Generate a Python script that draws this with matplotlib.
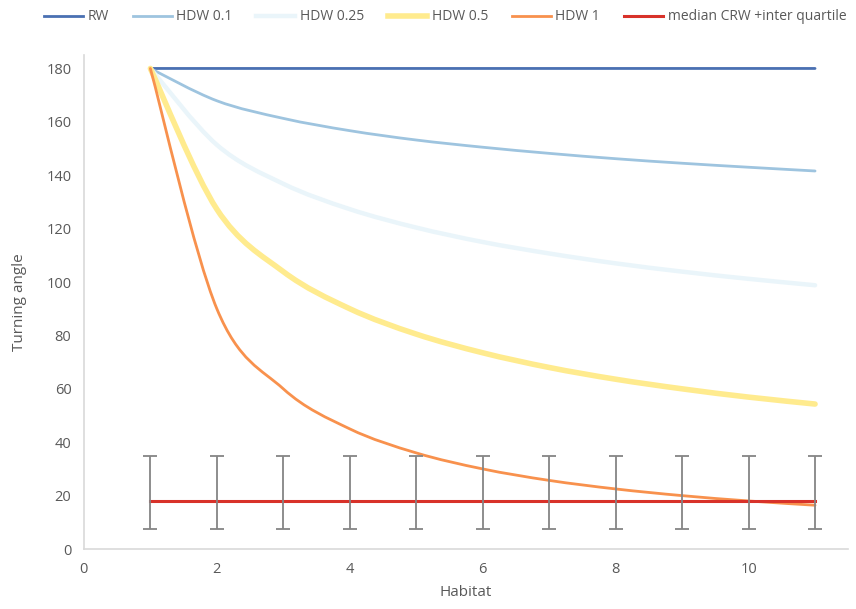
import numpy as np
import matplotlib
matplotlib.use('Agg')
import matplotlib.pyplot as plt
from matplotlib.path import Path
from matplotlib.patches import PathPatch
from matplotlib.lines import Line2D

plt.rcParams['font.family'] = ['Open Sans', 'DejaVu Sans']

# habitat values and turning angles
habitat = [1, 2, 3, 4, 5, 6, 7, 8, 9, 10, 11]
rw = [180, 180, 180, 180, 180, 180, 180, 180, 180, 180, 180]
hdw_01 = [180, 167.9, 161.3, 156.7, 153.2, 150.5, 148.2, 146.2, 144.5, 143.0, 141.6]
hdw_025 = [180, 151.4, 136.8, 127.3, 120.4, 115.0, 110.7, 107.0, 103.9, 101.2, 98.8]
hdw_05 = [180, 127.3, 103.9, 90.0, 80.5, 73.5, 68.0, 63.6, 60.0, 56.9, 54.3]
hdw_1 = [180, 90.0, 60.0, 45.0, 36.0, 30.0, 25.7, 22.5, 20.0, 18.0, 16.4]
crw_median = [18] * 11
crw_q1 = [7.5] * 11
crw_q3 = [35] * 11

series = [
    ('RW', rw, '#4A70B2', 2.0),
    ('HDW 0.1', hdw_01, '#9EC4DF', 2.0),
    ('HDW 0.25', hdw_025, '#EAF5FA', 3.2),
    ('HDW 0.5', hdw_05, '#FFEB8E', 4.0),
    ('HDW 1', hdw_1, '#F8914D', 2.0),
]


def smooth_path(x, y, t=1/6):
    # Excel-like smoothed line: cubic bezier segments through the points
    pts = np.column_stack([x, y]).astype(float)
    n = len(pts)
    verts = [pts[0]]
    codes = [Path.MOVETO]
    for i in range(n - 1):
        p_prev = pts[i - 1] if i > 0 else pts[i]
        p_next2 = pts[i + 2] if i + 2 < n else pts[i + 1]
        c1 = pts[i] + (pts[i + 1] - p_prev) * t
        c2 = pts[i + 1] - (p_next2 - pts[i]) * t
        verts += [c1, c2, pts[i + 1]]
        codes += [Path.CURVE4] * 3
    return Path(verts, codes)


fig = plt.figure(figsize=(8.56, 6.09), dpi=100)
ax = fig.add_axes([0.098, 0.0985, 0.893, 0.811])

handles = []
for label, vals, color, lw in series:
    patch = PathPatch(smooth_path(habitat, vals), facecolor='none', edgecolor=color,
                      lw=lw, capstyle='round', joinstyle='round', zorder=2)
    ax.add_patch(patch)
    handles.append(Line2D([], [], color=color, lw=lw, label=label))

ax.plot(habitat, crw_median, color='#D8322A', lw=2.2, zorder=3)
yerr = [np.array(crw_median) - np.array(crw_q1), np.array(crw_q3) - np.array(crw_median)]
ax.errorbar(habitat, crw_median, yerr=yerr, fmt='none', ecolor='#858585',
            elinewidth=1.3, capsize=5, capthick=1.3, zorder=4)
handles.append(Line2D([], [], color='#D8322A', lw=2.2, label='median CRW +inter quartile'))

ax.set_xlim(0, 11.5)
ax.set_ylim(0, 185)
ax.set_xticks([0, 2, 4, 6, 8, 10])
ax.set_yticks(range(0, 181, 20))
ax.tick_params(length=0, labelsize=10.5, labelcolor='#595959', pad=9)
for side in ['top', 'right']:
    ax.spines[side].set_visible(False)
for side in ['left', 'bottom']:
    ax.spines[side].set_color('#D9D9D9')
    ax.spines[side].set_linewidth(1.2)

ax.set_xlabel('Habitat', fontsize=11, color='#595959', labelpad=6)
ax.set_ylabel('Turning angle', fontsize=11, color='#595959', labelpad=14)

fig.legend(handles=handles, loc='upper center', bbox_to_anchor=(0.52, 1.005), ncol=6,
           frameon=False, fontsize=10, labelcolor='#595959', handlelength=2.8,
           columnspacing=1.7, handletextpad=0.35)

plt.savefig('out.png', dpi=100)
